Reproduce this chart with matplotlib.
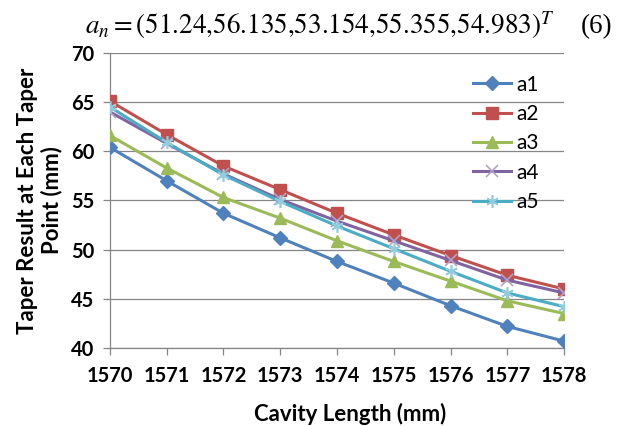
import matplotlib
matplotlib.use("Agg")
import matplotlib.pyplot as plt

# cavity length (mm) and taper results for each point
cavity = [1570, 1571, 1572, 1573, 1574, 1575, 1576, 1577, 1578]
a1 = [60.4, 57.0, 53.7, 51.2, 48.8, 46.6, 44.3, 42.2, 40.7]
a2 = [65.1, 61.7, 58.5, 56.1, 53.7, 51.5, 49.4, 47.4, 46.0]
a3 = [61.6, 58.3, 55.3, 53.2, 50.9, 48.8, 46.8, 44.8, 43.5]
a4 = [64.0, 60.8, 57.7, 55.1, 52.9, 50.9, 48.9, 46.9, 45.6]
a5 = [64.5, 60.9, 57.6, 54.9, 52.4, 50.1, 47.8, 45.6, 44.2]
yticks = [40, 45, 50, 55, 60, 65, 70]

plt.rcParams['font.family'] = ['Lato', 'DejaVu Sans']
plt.rcParams['mathtext.fontset'] = 'stix'

fig = plt.figure(figsize=(6.24, 4.26), dpi=100)
ax = fig.add_axes([0.176, 0.183, 0.728, 0.693])

lw = 2.2
ax.plot(cavity, a1, color="#4F81BD", lw=lw, marker="D", ms=7, label="a1", zorder=3)
ax.plot(cavity, a2, color="#C0504D", lw=lw, marker="s", ms=8, label="a2", zorder=3)
ax.plot(cavity, a3, color="#9BBB59", lw=lw, marker="^", ms=9, label="a3", zorder=3)
ax.plot(cavity, a4, color="#8064A2", lw=lw, marker="x", ms=8, mew=1.2,
        mec="#B3A2C7", label="a4", zorder=3)
ax.plot(cavity, a5, color="#4BACC6", lw=lw, marker=(6, 2, 0), ms=9, mew=1.2,
        mec="#93CDDD", label="a5", zorder=3)

ax.set_xlim(1570, 1578)
ax.set_ylim(40, 70)
ax.set_xticks(cavity)
ax.set_yticks(yticks)

ax.grid(axis="y", color="#868686", lw=0.9)
ax.set_axisbelow(True)
for s in ["top", "right"]:
    ax.spines[s].set_visible(False)
for s in ["left", "bottom"]:
    ax.spines[s].set_color("#868686")
    ax.spines[s].set_linewidth(0.9)
ax.tick_params(axis="both", colors="#868686", labelcolor="black", length=5, width=0.9,
               labelsize=14.5)
for lab in ax.get_xticklabels() + ax.get_yticklabels():
    lab.set_fontweight("bold")
ax.tick_params(axis="x", pad=8)
ax.tick_params(axis="y", pad=6)

ax.set_xlabel("Cavity Length (mm)", fontsize=16, fontweight="bold")
ax.xaxis.set_label_coords(0.53, -0.185)
ax.set_ylabel("Taper Result at Each Taper\nPoint (mm)", fontsize=16, fontweight="bold",
              labelpad=6, linespacing=1.15)

leg = ax.legend(loc="upper right", bbox_to_anchor=(0.985, 0.99), frameon=False,
                fontsize=15, handlelength=1.8, labelspacing=0.45, handletextpad=0.25)

# equation line above the chart
fig.text(85 / 624, 0.922, r"$a_n = \left(51.24{,}56.135{,}53.154{,}55.355{,}54.983\right)^T$",
         fontsize=19.5, ha="left", va="baseline")
fig.text(612 / 624, 0.922, "(6)", fontsize=19.5, ha="right", va="baseline",
         family="Liberation Serif")

fig.savefig("out.png", dpi=100)
